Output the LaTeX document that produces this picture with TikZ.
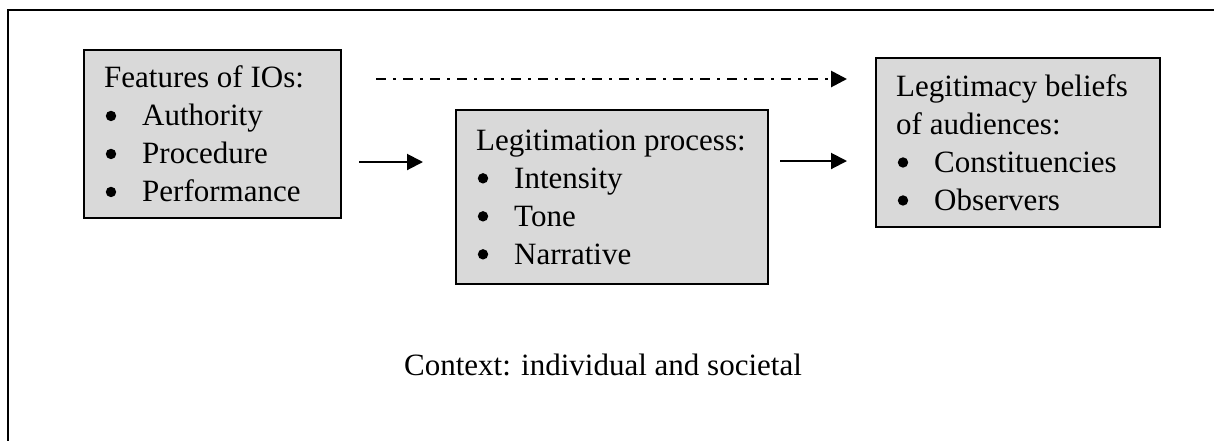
\documentclass[tikz,border=0pt]{standalone}
\usepackage{fontspec}
\setmainfont{Liberation Serif}
\usetikzlibrary{arrows.meta}
\definecolor{boxgray}{HTML}{D9D9D9}
\newcommand{\itm}[1]{\makebox[19pt][l]{\hspace{0.8pt}\tikz[baseline=-5pt]\fill (0,0) circle (2.6pt);}#1}

\begin{document}
\begin{tikzpicture}[x=0.5pt, y=-0.5pt,
    every node/.style={font=\fontsize{15.5}{19}\selectfont},
    fbox/.style={draw, line width=1.2pt, fill=boxgray, anchor=north west,
      inner xsep=10pt, inner ysep=0pt, align=flush left,
      execute at begin node={\spaceskip=0pt\xspaceskip=0pt\relax}},
    arr/.style={line width=1pt, -{Triangle[length=8pt,width=8pt]}}]
    \useasboundingbox (0,0) rectangle (1214,441);
    \draw[line width=0.6pt] (1214,10) -- (8,10) -- (8,441);
    \node[fbox, text width=108.5pt, minimum height=84pt] (feat) at (83,49)
      {Features of IOs:\\ \itm{Authority}\\ \itm{Procedure}\\ \itm{Performance}};
    \node[fbox, text width=136pt, minimum height=87pt] (proc) at (455,109)
      {Legitimation process:\\ \itm{Intensity}\\ \itm{Tone}\\ \itm{Narrative}};
    \node[fbox, text width=122pt, minimum height=84.5pt] (beli) at (875,57)
      {Legitimacy beliefs\\ of audiences:\\ \itm{Constituencies}\\ \itm{Observers}};
    \node[anchor=base] (ctx) at (603,375) {Context: individual and societal};
    \coordinate (d1) at (376,79);
    \coordinate (d2) at (847,79);
    \coordinate (s1) at (359,162);
    \coordinate (s2) at (423,162);
    \coordinate (s3) at (780,161);
    \coordinate (s4) at (847,161);
    \draw[arr, line width=1.4pt, dash pattern=on 5pt off 3.5pt on 1.5pt off 3.5pt] (d1) -- (d2);
    \draw[arr] (s1) -- (s2);
    \draw[arr] (s3) -- (s4);
  \end{tikzpicture}
\end{document}
